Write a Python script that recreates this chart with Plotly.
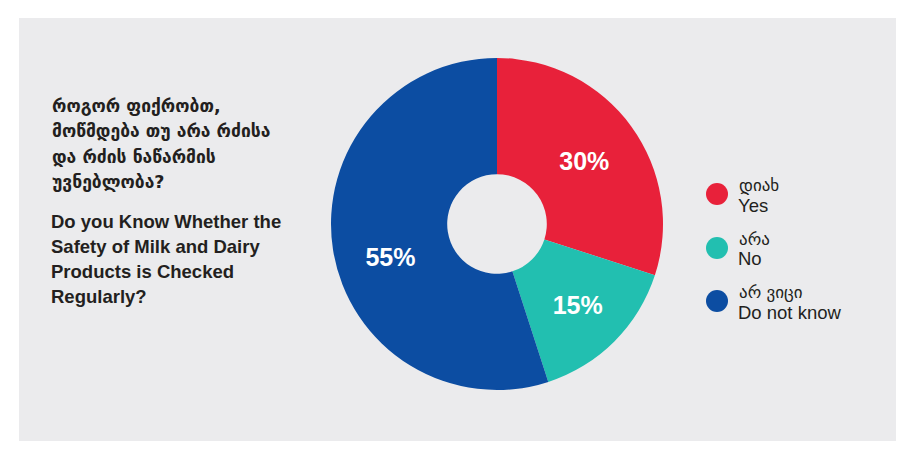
import plotly.graph_objects as go

categories_en = ["Yes", "No", "Do not know"]
categories_ka = ["დიახ", "არა", "არ ვიცი"]
values = [30, 15, 55]
colors = ["#E8213A", "#22BFB0", "#0C4DA2"]

title_ka = ["როგორ ფიქრობთ,", "მოწმდება თუ არა რძისა", "და რძის ნაწარმის", "უვნებლობა?"]
title_en = ["Do you Know Whether the", "Safety of Milk and Dairy", "Products is Checked", "Regularly?"]

# page body has an 8px margin; work in window pixel coordinates and convert
OFF = 8
W, H = 909 - OFF, 457 - OFF


def px(x):
    return (x - OFF) / W


def py(y):
    return 1 - (y - OFF) / H


cx, cy, r = 497, 224, 166

fig = go.Figure()
fig.add_trace(go.Pie(
    labels=categories_en,
    values=values,
    sort=False,
    direction="clockwise",
    rotation=0,
    hole=0.3,
    marker=dict(colors=colors, line=dict(width=0)),
    texttemplate=["%{percent}", "%{percent}", " <br>%{percent}"],
    textposition="inside",
    insidetextorientation="horizontal",
    textfont=dict(family="Liberation Sans, Arial, sans-serif", size=25, color="white", weight="bold"),
    domain=dict(x=[px(cx - r), px(cx + r)], y=[py(cy + r), py(cy - r)]),
    showlegend=False,
    hoverinfo="label+percent",
))

shapes = [dict(type="rect", xref="paper", yref="paper",
               x0=px(19), x1=px(896), y0=py(441), y1=py(18),
               fillcolor="#EBEBED", line=dict(width=0), layer="below")]
annotations = []

font_txt = "Liberation Sans, Arial, DejaVu Sans, sans-serif"
for i, line in enumerate(title_ka):
    annotations.append(dict(x=px(50), y=py(106 + i * 25.3), xref="paper", yref="paper",
                            text="<b>" + line + "</b>", showarrow=False, xanchor="left", yanchor="middle",
                            font=dict(family="DejaVu Sans, sans-serif", size=17.5, color="#231F20")))
for i, line in enumerate(title_en):
    annotations.append(dict(x=px(49), y=py(221 + i * 25), xref="paper", yref="paper",
                            text="<b>" + line + "</b>", showarrow=False, xanchor="left", yanchor="middle",
                            font=dict(family=font_txt, size=18.5, color="#231F20")))

leg_y = [194, 248, 301]
for i in range(3):
    y = leg_y[i]
    shapes.append(dict(type="circle", xref="paper", yref="paper",
                       x0=px(717 - 11), x1=px(717 + 11), y0=py(y + 11), y1=py(y - 11),
                       fillcolor=colors[i], line=dict(width=0)))
    annotations.append(dict(x=px(737), y=py(y - 9), xref="paper", yref="paper",
                            text=categories_ka[i], showarrow=False, xanchor="left", yanchor="middle",
                            font=dict(family="DejaVu Sans, sans-serif", size=17, color="#231F20")))
    annotations.append(dict(x=px(736), y=py(y + 11), xref="paper", yref="paper",
                            text=categories_en[i], showarrow=False, xanchor="left", yanchor="middle",
                            font=dict(family=font_txt, size=18.5, color="#231F20")))

fig.update_layout(
    width=W, height=H,
    margin=dict(l=0, r=0, t=0, b=0),
    paper_bgcolor="white",
    plot_bgcolor="white",
    shapes=shapes,
    annotations=annotations,
)

fig.write_html("out.html")
